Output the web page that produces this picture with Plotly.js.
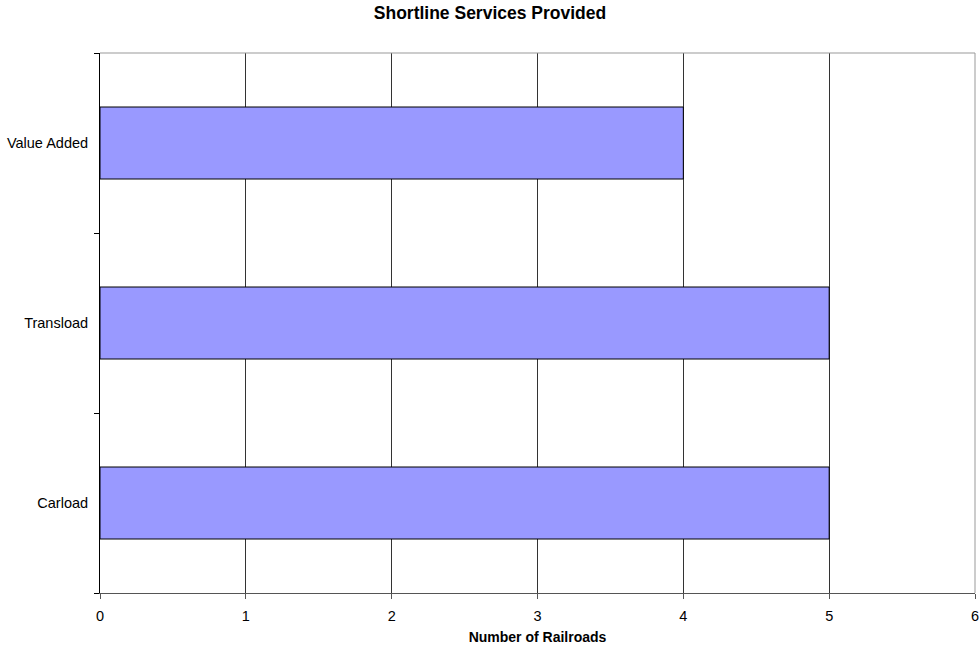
<!DOCTYPE html>
<html>
<head>
<meta charset="utf-8">
<script src="https://cdn.plot.ly/plotly-3.0.1.min.js"></script>
<style>html,body{margin:0;padding:0;background:#fff;}#chart{width:980px;height:647px;}</style>
</head>
<body>
<div id="chart"></div>
<script>
var categories = ["Carload", "Transload", "Value Added"];
var railroads = [5, 5, 4];
var xTicks = [0, 1, 2, 3, 4, 5, 6];

var trace = {
  type: "bar",
  orientation: "h",
  y: categories,
  x: railroads,
  marker: {color: "#9999FF", line: {color: "#000000", width: 1}},
  hoverinfo: "x+y"
};

var layout = {
  width: 980,
  height: 647,
  margin: {l: 100, r: 5, t: 53, b: 54},
  paper_bgcolor: "#fff",
  plot_bgcolor: "#fff",
  font: {family: "Liberation Sans, Arial, sans-serif", size: 14.5, color: "#000"},
  title: {text: "<b>Shortline Services Provided</b>", x: 0.5, xanchor: "center", y: 0.99, yanchor: "top",
          font: {size: 17.5, color: "#000"}},
  bargap: 0.6,
  showlegend: false,
  xaxis: {
    range: [0, 6],
    tickvals: xTicks,
    ticks: "outside",
    ticklen: 5,
    tickcolor: "#555",
    showgrid: true,
    gridcolor: "#333",
    gridwidth: 1,
    showline: true,
    linecolor: "#555",
    linewidth: 1,
    zeroline: false,
    tickfont: {size: 14.5},
    ticklabelstandoff: 5,
    automargin: false,
    title: {text: "<b>Number of Railroads</b>", font: {size: 14}, standoff: 8},
    fixedrange: true
  },
  yaxis: {
    type: "category",
    categoryorder: "array",
    categoryarray: categories,
    ticks: "outside",
    tickson: "boundaries",
    ticklen: 5,
    tickcolor: "#000",
    showgrid: false,
    showline: true,
    linecolor: "#000",
    linewidth: 1,
    ticklabelstandoff: 8,
    automargin: false,
    tickfont: {size: 14.5},
    fixedrange: true
  },
  shapes: [
    {type: "line", xref: "paper", yref: "paper", x0: 0, x1: 1, y0: 1, y1: 1, line: {color: "#999", width: 1}},
    {type: "line", xref: "paper", yref: "paper", x0: 1, x1: 1, y0: 0, y1: 1, line: {color: "#999", width: 1}}
  ]
};

Plotly.newPlot("chart", [trace], layout, {displayModeBar: false, staticPlot: true});
</script>
</body>
</html>
